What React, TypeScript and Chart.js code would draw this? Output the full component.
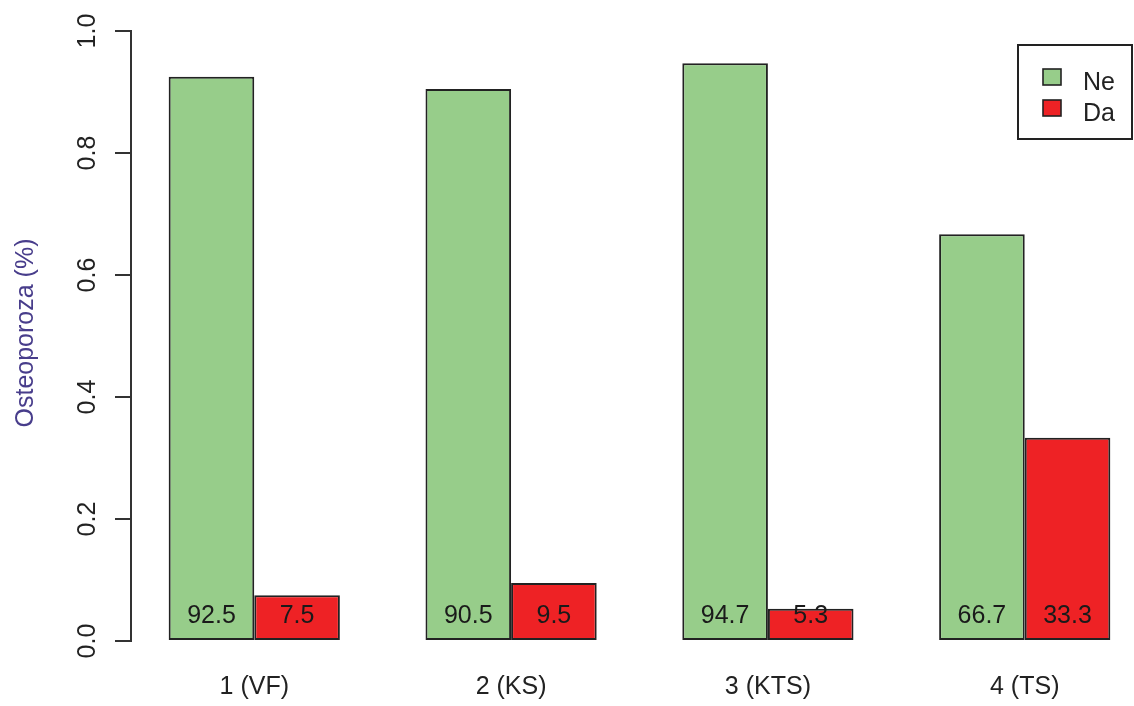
import React, { useEffect, useRef } from "react";
import { Chart, registerables } from "chart.js";

Chart.register(...registerables);

const categories = ["1 (VF)", "2 (KS)", "3 (KTS)", "4 (TS)"];
const seriesNames = ["Ne", "Da"];
const neValues = [0.925, 0.905, 0.947, 0.667];
const daValues = [0.075, 0.095, 0.053, 0.333];
const neLabels = ["92.5", "90.5", "94.7", "66.7"];
const daLabels = ["7.5", "9.5", "5.3", "33.3"];
const yTicks = [0, 0.2, 0.4, 0.6, 0.8, 1.0];
const yTickLabels = ["0.0", "0.2", "0.4", "0.6", "0.8", "1.0"];
const yTitle = "Osteoporoza (%)";

const FONT = "'Liberation Sans', Arial, sans-serif";
const GREEN = "#97CD8A";
const RED = "#EE2225";

// group centre of barplot(beside=TRUE, space=c(0,1)) in R's x-units
const groupX = (i: number) => 2 + 3 * i;

const overlayPlugin = {
  id: "overlay",
  afterDraw(chart: any) {
    const ctx = chart.ctx as CanvasRenderingContext2D;
    const y = chart.scales.y;
    const area = chart.chartArea;
    ctx.save();

    // y tick labels, rotated
    ctx.fillStyle = "#222";
    ctx.font = `25px ${FONT}`;
    ctx.textAlign = "center";
    ctx.textBaseline = "alphabetic";
    yTicks.forEach((v, i) => {
      const py = y.getPixelForValue(v);
      ctx.save();
      ctx.translate(area.left - 36, py);
      ctx.rotate(-Math.PI / 2);
      ctx.fillText(yTickLabels[i], 0, 0);
      ctx.restore();
    });

    // y title
    ctx.save();
    ctx.fillStyle = "#483D8B";
    ctx.translate(33, (area.top + area.bottom) / 2 - 3);
    ctx.rotate(-Math.PI / 2);
    ctx.fillText(yTitle, 0, 0);
    ctx.restore();

    // value labels at bar bottoms
    const labelSets = [neLabels, daLabels];
    ctx.fillStyle = "#1a1a1a";
    ctx.textBaseline = "middle";
    chart.data.datasets.forEach((_: any, d: number) => {
      const meta = chart.getDatasetMeta(d);
      meta.data.forEach((el: any, i: number) => {
        ctx.fillText(labelSets[d][i], el.x, y.getPixelForValue(0.04));
      });
    });

    // legend box
    const bx = 1018, by = 45, bw = 114, bh = 94;
    ctx.strokeStyle = "#222";
    ctx.lineWidth = 2;
    ctx.strokeRect(bx, by, bw, bh);
    ctx.textAlign = "left";
    ctx.textBaseline = "alphabetic";
    chart.data.datasets.forEach((ds: any, d: number) => {
      const rowY = by + 24 + d * 31;
      ctx.fillStyle = ds.backgroundColor;
      ctx.fillRect(1043, rowY, 18, 16);
      ctx.strokeStyle = "#222";
      ctx.lineWidth = 1.6;
      ctx.strokeRect(1043, rowY, 18, 16);
      ctx.fillStyle = "#222";
      ctx.fillText(ds.label, 1083, rowY + 21);
    });

    ctx.restore();
  },
};

export default function App() {
  const ref = useRef<HTMLCanvasElement | null>(null);

  useEffect(() => {
    if (!ref.current) return;
    const chart = new Chart(ref.current, {
      type: "bar",
      data: {
        datasets: [
          {
            label: seriesNames[0],
            data: neValues.map((v, i) => ({ x: groupX(i), y: v })),
            backgroundColor: GREEN,
            borderColor: "#222",
            borderWidth: 2,
            borderSkipped: false,
            categoryPercentage: 2 / 3,
            barPercentage: 1,
          },
          {
            label: seriesNames[1],
            data: daValues.map((v, i) => ({ x: groupX(i), y: v })),
            backgroundColor: RED,
            borderColor: "#222",
            borderWidth: 2,
            borderSkipped: false,
            categoryPercentage: 2 / 3,
            barPercentage: 1,
          },
        ],
      },
      options: {
        responsive: false,
        animation: false,
        devicePixelRatio: 1,
        layout: { padding: { top: 31, left: 0, right: 0, bottom: 0 } },
        plugins: { legend: { display: false }, tooltip: { enabled: false } },
        events: [],
        scales: {
          x: {
            type: "linear",
            min: 0.56,
            max: 12.44,
            offset: false,
            grid: { display: false, drawTicks: false },
            border: { display: false },
            afterBuildTicks: (s: any) => {
              s.ticks = categories.map((_, i) => ({ value: groupX(i) }));
            },
            afterFit: (s: any) => {
              s.height = 65;
            },
            ticks: {
              autoSkip: false,
              maxRotation: 0,
              padding: 31,
              color: "#222",
              font: { family: FONT, size: 25 },
              callback: (_v: any, i: number) => categories[i],
            },
          },
          y: {
            type: "linear",
            min: 0,
            max: 1,
            afterBuildTicks: (s: any) => {
              s.ticks = yTicks.map((v) => ({ value: v }));
            },
            afterFit: (s: any) => {
              s.width = 131;
            },
            grid: {
              display: true,
              drawOnChartArea: false,
              drawTicks: true,
              tickLength: 16,
              color: "#333",
              lineWidth: 2,
            },
            border: { display: true, color: "#333", width: 2 },
            ticks: { display: false },
          },
        },
      },
      plugins: [overlayPlugin],
    } as any);
    return () => chart.destroy();
  }, []);

  return (
    <div
      style={{
        position: "absolute",
        left: 0,
        top: 0,
        width: 1134,
        height: 706,
        overflow: "hidden",
        background: "#fff",
      }}
    >
      <canvas ref={ref} width={1148} height={706} style={{ width: 1148, height: 706 }} />
    </div>
  );
}
